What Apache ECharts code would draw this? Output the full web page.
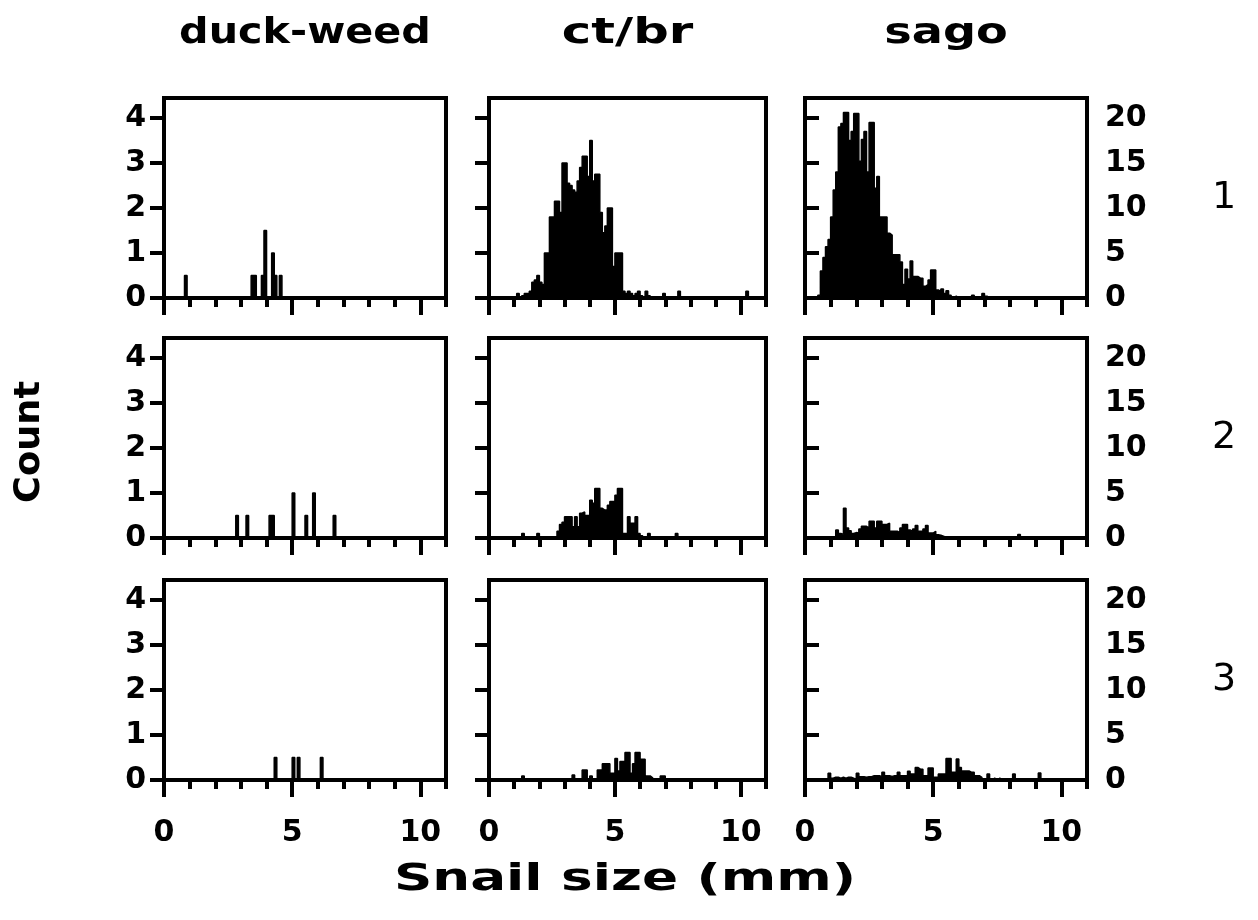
<!DOCTYPE html>
<html><head><meta charset="utf-8">
<script src="https://cdn.jsdelivr.net/npm/echarts@6/dist/echarts.min.js"></script>
<style>html,body{margin:0;padding:0;background:#fff}#c{width:1258px;height:920px}</style>
</head><body><div id="c"></div>
<script>
// ---- data (bin left edge in mm, count); bins are 0.1 mm wide ----
const colTitles = ['duck-weed', 'ct/br', 'sago'];
const rowLabels = ['1', '2', '3'];
const leftTicks = [0, 1, 2, 3, 4];
const rightTicks = [0, 5, 10, 15, 20];
const xMajorTicks = [0, 5, 10];
const xMinorTicks = [0, 1, 2, 3, 4, 5, 6, 7, 8, 9, 10, 11];

const duck1 = [[0.8,0.5],[3.4,0.5],[3.5,0.5],[3.8,0.5],[3.9,1.5],[4.2,1.0],[4.3,0.5],[4.5,0.5]];
const duck2 = [[2.8,0.5],[3.2,0.5],[4.1,0.5],[4.2,0.5],[5.0,1.0],[5.5,0.5],[5.8,1.0],[6.6,0.5]];
const duck3 = [[4.3,0.5],[5.0,0.5],[5.2,0.5],[6.1,0.5]];

const ctbr1 = [[1.1,0.1],[1.3,0.05],[1.4,0.1],[1.5,0.1],[1.6,0.15],[1.7,0.35],[1.8,0.4],[1.9,0.5],[2.0,0.35],[2.1,0.3],
  [2.2,1.0],[2.3,1.0],[2.4,1.8],[2.5,1.8],[2.6,2.15],[2.7,2.15],[2.8,1.9],[2.9,3.0],[3.0,3.0],[3.1,2.55],
  [3.2,2.5],[3.3,2.4],[3.4,2.35],[3.5,2.6],[3.6,2.9],[3.7,3.15],[3.8,3.15],[3.9,2.7],[4.0,3.5],[4.1,2.6],
  [4.2,2.75],[4.3,2.75],[4.4,1.9],[4.5,1.45],[4.6,1.6],[4.7,2.0],[4.8,2.0],[4.9,0.7],[5.0,1.0],[5.1,1.0],
  [5.2,1.0],[5.3,0.15],[5.4,0.1],[5.5,0.15],[5.6,0.1],[5.7,0.05],[5.8,0.1],[5.9,0.15],[6.0,0.05],[6.2,0.15],
  [6.3,0.05],[6.9,0.1],[7.5,0.15],[10.2,0.15]];
const ctbr2 = [[1.3,0.1],[1.9,0.1],[2.7,0.15],[2.8,0.3],[2.9,0.35],[3.0,0.47],[3.1,0.47],[3.2,0.47],[3.3,0.25],[3.4,0.47],
  [3.5,0.25],[3.6,0.55],[3.7,0.58],[3.8,0.5],[3.9,0.5],[4.0,0.84],[4.1,0.77],[4.2,1.1],[4.3,1.1],[4.4,0.66],
  [4.5,0.62],[4.6,0.62],[4.7,0.73],[4.8,0.81],[4.9,0.81],[5.0,0.95],[5.1,1.1],[5.2,1.1],[5.3,0.1],[5.4,0.1],
  [5.5,0.47],[5.6,0.33],[5.7,0.33],[5.8,0.47],[5.9,0.1],[6.0,0.05],[6.3,0.1],[7.4,0.1]];
const ctbr3 = [[1.3,0.09],[3.3,0.11],[3.7,0.22],[3.8,0.22],[4.0,0.09],[4.3,0.22],[4.4,0.22],[4.5,0.36],[4.6,0.36],[4.7,0.36],
  [4.8,0.15],[4.9,0.15],[5.0,0.48],[5.1,0.2],[5.2,0.41],[5.3,0.41],[5.4,0.61],[5.5,0.61],[5.6,0.15],[5.7,0.36],
  [5.8,0.61],[5.9,0.61],[6.0,0.46],[6.1,0.46],[6.2,0.09],[6.3,0.09],[6.4,0.05],[6.8,0.09],[6.9,0.09]];

const sago1 = [[0.5,0.3],[0.6,3.0],[0.7,4.5],[0.8,5.7],[0.9,6.5],[1.0,9.0],[1.1,12.0],[1.2,14.0],[1.3,19.0],[1.4,19.4],
  [1.5,20.6],[1.6,20.6],[1.7,17.5],[1.8,18.5],[1.9,20.5],[2.0,20.5],[2.1,15.2],[2.2,17.6],[2.3,18.5],[2.4,14.0],
  [2.5,19.5],[2.6,19.5],[2.7,12.2],[2.8,13.5],[2.9,9.0],[3.0,9.0],[3.1,9.0],[3.2,7.2],[3.3,7.0],[3.4,4.8],
  [3.5,4.8],[3.6,4.8],[3.7,4.0],[3.8,1.5],[3.9,3.2],[4.0,2.1],[4.1,4.1],[4.2,2.4],[4.3,2.4],[4.4,2.2],
  [4.5,2.2],[4.6,1.3],[4.7,1.5],[4.8,2.0],[4.9,3.1],[5.0,3.1],[5.1,0.9],[5.2,0.7],[5.3,1.0],[5.4,0.5],
  [5.5,0.8],[5.6,0.3],[5.8,0.2],[6.5,0.3],[6.9,0.5],[7.0,0.2]];
const sago2 = [[1.2,0.9],[1.3,0.5],[1.4,0.4],[1.5,3.3],[1.6,1.1],[1.7,0.8],[1.8,0.5],[1.9,0.6],[2.0,0.55],[2.1,1.0],
  [2.2,1.3],[2.3,1.3],[2.4,1.1],[2.5,1.85],[2.6,1.85],[2.7,1.1],[2.8,1.85],[2.9,1.85],[3.0,1.5],[3.1,1.5],
  [3.2,1.65],[3.3,0.75],[3.4,0.75],[3.5,0.75],[3.6,0.6],[3.7,1.1],[3.8,1.5],[3.9,1.5],[4.0,0.9],[4.1,0.7],
  [4.2,1.0],[4.3,1.4],[4.4,0.75],[4.5,0.75],[4.6,1.0],[4.7,1.4],[4.8,0.55],[4.9,0.55],[5.0,0.75],[5.1,0.35],
  [5.2,0.3],[5.3,0.2],[5.4,0.1],[8.3,0.4]];
const sago3 = [[0.9,0.74],[1.0,0.2],[1.1,0.3],[1.2,0.3],[1.3,0.2],[1.4,0.3],[1.5,0.2],[1.6,0.3],[1.7,0.3],[1.8,0.2],
  [2.0,0.74],[2.1,0.37],[2.2,0.37],[2.3,0.3],[2.4,0.37],[2.5,0.37],[2.6,0.48],[2.7,0.48],[2.8,0.48],[2.9,0.4],
  [3.0,0.85],[3.1,0.48],[3.2,0.48],[3.3,0.4],[3.4,0.48],[3.5,0.48],[3.6,0.85],[3.7,0.48],[3.8,0.48],[3.9,0.48],
  [4.0,0.96],[4.1,0.67],[4.2,0.67],[4.3,1.4],[4.4,1.2],[4.5,1.2],[4.6,0.48],[4.7,0.5],[4.8,1.33],[4.9,1.33],
  [5.0,0.3],[5.1,0.3],[5.2,0.67],[5.3,0.67],[5.4,0.67],[5.5,2.4],[5.6,2.4],[5.7,0.85],[5.8,0.85],[5.9,2.33],
  [6.0,1.4],[6.1,1.0],[6.2,1.0],[6.3,1.0],[6.4,0.85],[6.5,0.85],[6.6,0.48],[6.7,0.48],[6.8,0.3],[7.1,0.67],
  [7.3,0.2],[7.5,0.2],[8.1,0.67],[9.1,0.78]];

const panels = [duck1, ctbr1, sago1, duck2, ctbr2, sago2, duck3, ctbr3, sago3];

// ---- layout ----
const X_MAX = 11, BIN = 0.1, NBINS = 110;
const colLeft = [164, 489, 805], colWidth = [282, 277, 282];
const rowTop = [98, 338, 580], rowH = 200;
const LEFT_MAX = 4.444, RIGHT_MAX = 22.22;
const FONT = 'DejaVu Sans';

// step-histogram points: [bin start, count] for every bin, closed at X_MAX
function stepBins(pairs) {
  const m = new Map(pairs.map(([b, c]) => [Math.round(b / BIN), c]));
  const out = [];
  for (let i = 0; i < NBINS; i++) out.push([+(i * BIN).toFixed(3), m.get(i) || 0]);
  out.push([X_MAX, 0]);
  return out;
}

const grid = [], xAxis = [], yAxis = [], series = [];
const tickLine = { color: '#000', width: 4 };
const lbl = { color: '#000', fontFamily: FONT, fontWeight: 'bold', fontSize: 30 };
for (let r = 0; r < 3; r++) {
  for (let c = 0; c < 3; c++) {
    const p = r * 3 + c;
    grid.push({ left: colLeft[c], top: rowTop[r], width: colWidth[c], height: rowH,
      show: true, borderColor: '#000', borderWidth: 4, backgroundColor: 'transparent' });
    xAxis.push({ type: 'value', gridIndex: p, min: 0, max: X_MAX, position: 'bottom',
      axisLine: { show: false }, splitLine: { show: false },
      axisTick: { show: true, inside: false, length: 9, lineStyle: tickLine, customValues: xMinorTicks },
      axisLabel: { show: false } });
    xAxis.push({ type: 'value', gridIndex: p, min: 0, max: X_MAX, position: 'bottom',
      axisLine: { show: false }, splitLine: { show: false },
      axisTick: { show: true, inside: false, length: 17, lineStyle: tickLine, customValues: xMajorTicks },
      axisLabel: Object.assign({ show: r === 2, margin: 38, customValues: xMajorTicks }, lbl) });
    const right = c === 2;
    yAxis.push({ type: 'value', gridIndex: p, min: 0, max: right ? RIGHT_MAX : LEFT_MAX,
      position: right ? 'right' : 'left',
      axisLine: { show: false }, splitLine: { show: false },
      axisTick: { show: true, inside: false, length: 14, lineStyle: tickLine, customValues: right ? rightTicks : leftTicks },
      axisLabel: Object.assign({ show: c !== 1, margin: 18, customValues: right ? rightTicks : leftTicks,
        align: right ? 'left' : 'right' }, lbl) });
    series.push({ type: 'line', step: 'end', xAxisIndex: 2 * p, yAxisIndex: p, data: stepBins(panels[p]),
      showSymbol: false, symbol: 'none', lineStyle: { color: '#000', width: 1.5 },
      areaStyle: { color: '#000', opacity: 1 }, silent: true, animation: false });
  }
}

const graphic = [];
const txt = (x, y, text, size, opts) => Object.assign({ type: 'text', x, y,
  style: { text, fill: '#000', font: `${(opts && opts.weight) || 'bold'} ${size}px "${FONT}"`, textAlign: 'center', textVerticalAlign: 'middle' } },
  opts && opts.el);
const titleScale = [1.18, 1.42, 1.32];
for (let c = 0; c < 3; c++) graphic.push(txt(colLeft[c] + colWidth[c] / 2, 34, colTitles[c], 35, { el: { scaleX: titleScale[c] } }));
for (let r = 0; r < 3; r++) graphic.push(txt(1224, rowTop[r] + 100, rowLabels[r], 38, { weight: 'normal' }));
graphic.push(txt(30, 442, 'Count', 35, { el: { rotation: Math.PI / 2, scaleX: 1.05 } }));
graphic.push(txt(625, 880, 'Snail size (mm)', 38, { el: { scaleX: 1.4 } }));

const chart = echarts.init(document.getElementById('c'), null, { renderer: 'canvas' });
chart.setOption({ animation: false, backgroundColor: '#fff', grid, xAxis, yAxis, series, graphic });
</script></body></html>
